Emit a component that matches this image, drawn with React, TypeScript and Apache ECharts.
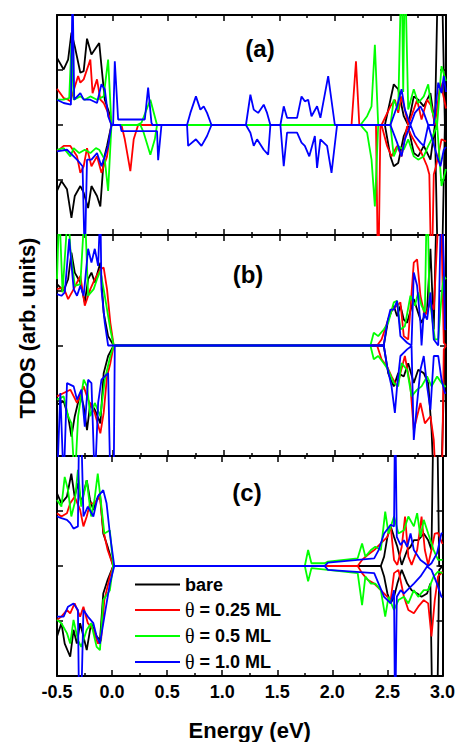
import React, { useEffect, useRef } from 'react';
import * as echarts from 'echarts';

// ---------- data: [energy (eV), TDOS (arb. units)] ----------
// Panel (a)
const aBareUp = [[-0.50,1.22],[-0.44,1.01],[-0.40,1.19],[-0.37,1.68],[-0.34,1.43],[-0.29,0.95],[-0.26,0.98],[-0.23,1.57],[-0.19,1.28],[-0.14,1.43],[-0.12,1.49],[-0.10,1.07],[-0.07,0.46],[-0.02,0.16],[-0.01,0],[2.45,0],[2.50,0.46],[2.53,0.74],[2.57,0.65],[2.62,0.16],[2.66,0],[2.71,0.52],[2.75,0.46],[2.80,0.34],[2.86,0.58],[2.90,0],[2.93,3],[2.96,3],[2.99,0],[3.0,0]];
const aBareDn = [[-0.50,-1.20],[-0.46,-1.02],[-0.41,-1.17],[-0.37,-1.69],[-0.34,-1.29],[-0.29,-1.11],[-0.26,-1.23],[-0.22,-1.51],[-0.19,-1.11],[-0.14,-1.29],[-0.11,-1.48],[-0.08,-0.63],[-0.05,-0.38],[-0.01,0],[2.45,0],[2.50,-0.57],[2.53,-0.75],[2.57,-0.69],[2.62,-0.20],[2.66,-0.02],[2.71,-0.51],[2.75,-0.57],[2.80,-0.38],[2.86,-0.63],[2.90,0],[2.93,-3],[2.96,-3],[2.99,0],[3.0,0]];
const a025Up = [[-0.50,0.66],[-0.44,0.49],[-0.40,0.46],[-0.38,0.43],[-0.31,0.89],[-0.29,0.77],[-0.26,0.83],[-0.20,1.19],[-0.18,0.58],[-0.14,0.83],[-0.11,0.46],[-0.08,0.40],[-0.04,0.22],[-0.01,0],[2.15,0],[2.19,1.16],[2.22,0],[2.42,0],[2.50,0.34],[2.54,0.46],[2.57,0.22],[2.60,0.52],[2.63,0.28],[2.66,0],[2.71,0.28],[2.74,0.46],[2.78,0.10],[2.83,0.46],[2.87,0.34],[2.90,0],[2.95,0.77],[2.98,0.5],[3.0,0.3]];
const a025Dn = [[-0.50,-0.48],[-0.44,-0.38],[-0.38,-0.38],[-0.32,-0.57],[-0.29,-0.87],[-0.26,-0.75],[-0.23,-0.42],[-0.19,-0.75],[-0.14,-0.57],[-0.10,-0.87],[-0.05,-0.57],[-0.01,0],[0.08,0],[0.11,-0.26],[0.16,-0.84],[0.19,-0.26],[0.23,0],[2.37,0],[2.39,-3],[2.41,0],[2.42,0],[2.47,-0.38],[2.51,-0.57],[2.56,-0.38],[2.60,-0.57],[2.65,-0.02],[2.69,-0.20],[2.74,-0.38],[2.78,-0.51],[2.83,-0.75],[2.85,-0.9],[2.87,-3],[2.89,-0.9],[2.91,-0.75],[2.96,-0.26],[3.0,-0.3]];
const a05Up = [[-0.50,0.46],[-0.44,0.46],[-0.39,0.49],[-0.37,1.49],[-0.35,0.46],[-0.29,0.52],[-0.25,0.46],[-0.20,0.52],[-0.14,0.46],[-0.08,0.52],[-0.04,1.19],[-0.01,0],[0.22,0],[0.26,0.04],[0.34,0.46],[0.40,0],[2.23,0],[2.29,0.16],[2.33,0.34],[2.36,1.46],[2.39,0],[2.50,0],[2.53,0.46],[2.57,0.28],[2.60,3],[2.615,0.6],[2.63,3],[2.66,0.28],[2.71,0.65],[2.75,0.40],[2.80,0.52],[2.84,0.74],[2.87,0.28],[2.92,0],[2.96,1.07],[3.0,0.8]];
const a05Dn = [[-0.50,-0.45],[-0.44,-0.42],[-0.38,-0.57],[-0.35,-0.42],[-0.30,-0.51],[-0.25,-0.45],[-0.20,-0.51],[-0.15,-0.42],[-0.12,-0.45],[-0.07,-0.63],[-0.04,-1.20],[-0.01,0],[0.25,0],[0.28,-0.14],[0.34,-0.54],[0.38,-0.26],[0.40,0],[2.23,0],[2.29,-0.14],[2.33,-0.63],[2.36,-1.48],[2.39,0],[2.50,0],[2.53,-0.57],[2.57,-0.38],[2.62,-0.45],[2.66,-0.26],[2.71,-0.57],[2.75,-0.63],[2.80,-0.57],[2.84,-0.38],[2.87,-0.26],[2.92,0],[2.96,-1.11],[3.0,-0.8]];
const a10Up = [[-0.50,0.46],[-0.44,0.40],[-0.375,0.37],[-0.36,2.5],[-0.345,0.46],[-0.29,0.58],[-0.26,0.46],[-0.20,0.46],[-0.14,0.40],[-0.10,0.74],[-0.07,0.65],[-0.04,0.16],[-0.01,0],[0.005,0],[0.02,1.16],[0.05,0.10],[0.29,0.10],[0.32,0.68],[0.35,0.04],[0.36,0],[0.67,0],[0.70,0.22],[0.75,0.52],[0.79,0.28],[0.82,0.34],[0.85,0.22],[0.89,0],[1.20,0],[1.24,0.55],[1.27,0.28],[1.31,0.22],[1.36,0.37],[1.39,0.22],[1.42,0],[1.51,0],[1.54,0.34],[1.57,0.13],[1.66,0.13],[1.70,0.52],[1.73,0.43],[1.76,0.46],[1.79,0.16],[1.84,0.34],[1.87,0.13],[1.94,0.89],[2.00,0],[2.50,0],[2.56,0.34],[2.60,0.65],[2.63,0.28],[2.68,0],[2.72,0.22],[2.77,0.34],[2.80,0.22],[2.84,0],[2.89,0],[2.93,0.77],[2.96,0.58],[2.98,0.89],[3.0,0.6]];
const a10Dn = [[-0.50,-0.48],[-0.41,-0.45],[-0.32,-0.63],[-0.27,-0.75],[-0.25,-2.5],[-0.23,-0.63],[-0.19,-0.63],[-0.14,-0.51],[-0.10,-0.75],[-0.07,-0.57],[-0.04,-0.38],[-0.01,0],[0.07,0],[0.08,-0.11],[0.40,-0.11],[0.41,-0.64],[0.44,0],[0.67,0],[0.68,-0.38],[0.75,-0.26],[0.80,-0.38],[0.85,-0.20],[0.89,0],[1.20,0],[1.24,-0.14],[1.27,-0.38],[1.30,-0.26],[1.36,-0.45],[1.40,-0.54],[1.42,0],[1.51,0],[1.54,-0.75],[1.57,-0.14],[1.66,-0.14],[1.70,-0.32],[1.73,-0.38],[1.77,-0.57],[1.82,-0.20],[1.84,-0.78],[1.87,-0.26],[1.93,-0.38],[1.97,-0.87],[2.02,0],[2.50,0],[2.56,-0.32],[2.60,-0.57],[2.63,-0.26],[2.68,0],[2.72,-0.20],[2.77,-0.32],[2.80,-0.38],[2.84,0],[2.92,-0.57],[2.95,-0.75],[2.98,-0.45],[3.0,-0.4]];

// Panel (b)
const bBareUp = [[-0.50,1.11],[-0.44,0.99],[-0.40,1.20],[-0.37,1.68],[-0.34,1.32],[-0.29,1.14],[-0.25,0.78],[-0.22,1.20],[-0.19,1.32],[-0.16,1.14],[-0.11,1.50],[-0.08,0.59],[-0.04,0.17],[0.01,0],[2.44,0],[2.48,0.47],[2.53,0.72],[2.56,0.53],[2.59,0.72],[2.62,0.47],[2.65,0.41],[2.71,0.84],[2.75,0.59],[2.78,0.41],[2.83,0.65],[2.86,1.75],[2.89,0.29],[2.92,3],[2.96,3],[2.99,0.05],[3.0,0]];
const bBareDn = [[-0.50,-1.07],[-0.44,-1.01],[-0.40,-1.28],[-0.37,-1.65],[-0.34,-1.28],[-0.29,-0.86],[-0.26,-1.10],[-0.23,-1.53],[-0.20,-1.04],[-0.16,-1.16],[-0.11,-1.41],[-0.08,-0.50],[-0.04,-0.19],[0.01,0],[2.44,0],[2.48,-0.50],[2.53,-0.74],[2.57,-0.50],[2.62,-0.56],[2.66,-0.32],[2.71,-0.68],[2.75,-0.44],[2.80,-0.50],[2.84,-0.68],[2.87,-1.53],[2.90,-3],[2.95,-3],[2.99,-0.07],[3.0,0]];
const b025Up = [[-0.50,1.02],[-0.44,1.05],[-0.40,0.84],[-0.35,1.02],[-0.29,1.26],[-0.25,0.72],[-0.20,1.02],[-0.16,1.20],[-0.11,1.38],[-0.08,1.41],[-0.05,1.02],[-0.02,0.41],[0.01,0],[2.38,0],[2.42,0.11],[2.47,0.41],[2.51,0.65],[2.56,0.72],[2.59,0.78],[2.62,0.17],[2.66,0.11],[2.71,1.50],[2.74,1.56],[2.77,0.90],[2.81,0.53],[2.86,0.78],[2.89,0.65],[2.92,1.87],[2.95,3],[2.98,0.05],[3.0,0]];
const b025Dn = [[-0.50,-0.92],[-0.44,-0.86],[-0.38,-0.80],[-0.32,-1.04],[-0.26,-0.74],[-0.22,-0.98],[-0.16,-1.22],[-0.11,-1.59],[-0.08,-1.22],[-0.05,-0.56],[-0.02,-0.32],[0.01,0],[2.38,0],[2.42,-0.25],[2.47,-0.38],[2.51,-0.56],[2.56,-0.74],[2.59,-0.50],[2.63,-0.19],[2.68,-0.74],[2.71,-1.53],[2.74,-1.28],[2.77,-1.04],[2.81,-1.41],[2.86,-1.28],[2.89,-1.71],[2.92,-3],[2.96,-3],[2.98,-0.07],[3.0,0]];
const b05Up = [[-0.50,1.20],[-0.48,2.5],[-0.45,0.96],[-0.40,2.5],[-0.38,1.75],[-0.34,1.08],[-0.29,1.11],[-0.25,2.5],[-0.22,0.90],[-0.17,1.02],[-0.14,1.20],[-0.11,1.35],[-0.07,0.90],[-0.02,0.29],[0.01,0],[2.32,0],[2.35,0.23],[2.39,0.17],[2.44,0.29],[2.48,0.41],[2.53,0.78],[2.56,0.81],[2.59,0.29],[2.63,0.35],[2.68,0.90],[2.72,0.72],[2.75,0.96],[2.78,0.72],[2.81,0.6],[2.83,3],[2.85,0.9],[2.90,0.11],[2.93,0.11],[2.96,0.90],[2.98,1.26],[3.0,1.2]];
const b05Dn = [[-0.50,-0.98],[-0.44,-0.92],[-0.40,-1.28],[-0.37,-1.41],[-0.34,-2.5],[-0.31,-1.28],[-0.26,-0.62],[-0.23,-0.74],[-0.20,-1.28],[-0.16,-1.04],[-0.11,-1.28],[-0.07,-0.62],[-0.02,-0.19],[0.01,0],[2.32,0],[2.35,-0.25],[2.39,-0.19],[2.44,-0.32],[2.48,-0.44],[2.53,-0.68],[2.57,-0.74],[2.60,-0.32],[2.65,-0.44],[2.69,-0.92],[2.74,-0.80],[2.78,-0.74],[2.83,-0.56],[2.87,-0.74],[2.92,-0.56],[2.96,-0.68],[2.99,-0.74],[3.0,-0.74]];
const b10Up = [[-0.50,0.93],[-0.46,0.90],[-0.43,0.96],[-0.39,1.93],[-0.35,1.02],[-0.32,0.90],[-0.29,1.08],[-0.26,0.90],[-0.22,1.75],[-0.19,1.50],[-0.16,1.75],[-0.13,1.44],[-0.11,2.5],[-0.10,1.02],[-0.07,0.41],[-0.04,0],[2.44,0],[2.47,0.41],[2.50,0.65],[2.53,0.65],[2.56,0.81],[2.59,0.17],[2.65,0.05],[2.69,0],[2.71,1.32],[2.74,1.08],[2.77,0.41],[2.78,0],[2.80,0.59],[2.83,0.47],[2.86,0.96],[2.89,0.11],[2.93,0],[2.96,3],[2.98,1.50],[2.99,0.29],[3.0,0.3]];
const b10Dn = [[-0.50,-2.5],[-0.47,-0.86],[-0.44,-2.5],[-0.41,-0.68],[-0.35,-0.74],[-0.32,-0.98],[-0.28,-0.80],[-0.25,-1.47],[-0.22,-0.62],[-0.19,-0.68],[-0.16,-2.5],[-0.13,-1.04],[-0.10,-0.62],[-0.07,-0.56],[-0.04,-0.50],[-0.02,-2.5],[0.01,-2.5],[0.02,0],[2.44,0],[2.47,-0.38],[2.51,-0.74],[2.54,-1.22],[2.56,-0.74],[2.59,-0.19],[2.65,-0.07],[2.69,-0.01],[2.71,-1.71],[2.74,-1.04],[2.77,-0.44],[2.80,-0.19],[2.83,-0.74],[2.86,-1.16],[2.89,-0.19],[2.93,-0.19],[2.96,-0.62],[2.99,-0.86],[3.0,-0.86]];

// Panel (c)
const cBareUp = [[-0.50,1.32],[-0.46,1.14],[-0.41,1.26],[-0.37,1.68],[-0.34,1.26],[-0.31,1.50],[-0.28,1.14],[-0.23,1.56],[-0.20,1.20],[-0.17,1.02],[-0.14,1.20],[-0.11,1.32],[-0.08,0.59],[-0.04,0.35],[0.01,0],[2.44,0],[2.47,0.17],[2.50,0.53],[2.53,0.72],[2.56,0.53],[2.59,0.35],[2.63,0.02],[2.68,0.29],[2.71,0.35],[2.74,0.47],[2.78,0.47],[2.83,0.59],[2.87,0.47],[2.90,0.29],[2.92,3],[2.95,3],[2.97,0],[3.0,0]];
const cBareDn = [[-0.50,-1.28],[-0.46,-1.04],[-0.43,-1.41],[-0.38,-1.65],[-0.35,-1.16],[-0.32,-1.41],[-0.29,-1.04],[-0.26,-1.28],[-0.23,-1.53],[-0.19,-1.04],[-0.14,-1.28],[-0.11,-1.35],[-0.08,-0.50],[-0.04,-0.25],[0.01,0],[2.44,0],[2.47,-0.19],[2.50,-0.50],[2.53,-0.68],[2.56,-0.56],[2.59,-0.32],[2.63,-0.07],[2.68,-0.32],[2.72,-0.44],[2.77,-0.50],[2.81,-0.56],[2.86,-0.50],[2.89,-0.32],[2.91,-3],[2.95,-3],[2.97,-0.07],[3.0,0]];
const c025Up = [[-0.50,0.96],[-0.46,0.90],[-0.41,0.96],[-0.38,1.14],[-0.34,1.26],[-0.29,1.02],[-0.26,0.72],[-0.23,0.90],[-0.20,1.14],[-0.16,1.14],[-0.11,1.26],[-0.08,0.65],[-0.04,0.29],[0.01,0],[2.23,0],[2.27,0.11],[2.32,0.20],[2.38,0.29],[2.44,0.41],[2.50,0.53],[2.53,0.72],[2.56,0.11],[2.59,0.02],[2.63,0.35],[2.66,0.90],[2.69,0.17],[2.72,0.02],[2.77,0.29],[2.81,0.90],[2.84,0.29],[2.87,0.02],[2.90,0.29],[2.93,0.59],[2.96,0.60],[3.0,0.4]];
const c025Dn = [[-0.50,-0.98],[-0.46,-0.92],[-0.41,-0.80],[-0.38,-0.86],[-0.34,-0.68],[-0.29,-0.92],[-0.26,-0.74],[-0.22,-1.04],[-0.17,-1.16],[-0.13,-1.41],[-0.10,-1.35],[-0.07,-0.62],[-0.02,-0.19],[0.01,0],[2.23,0],[2.27,-0.13],[2.32,-0.25],[2.38,-0.32],[2.44,-0.44],[2.50,-0.56],[2.53,-0.62],[2.56,-0.13],[2.60,-0.07],[2.65,-0.56],[2.69,-0.80],[2.74,-0.86],[2.78,-0.74],[2.83,-0.62],[2.87,-0.68],[2.90,-1.28],[2.93,-0.62],[2.96,-0.19],[2.99,-0.13],[3.0,-0.1]];
const c05Up = [[-0.50,1.20],[-0.46,1.08],[-0.43,1.62],[-0.40,1.38],[-0.37,0.90],[-0.34,1.14],[-0.31,1.75],[-0.28,1.08],[-0.23,1.56],[-0.19,0.90],[-0.16,1.20],[-0.13,1.68],[-0.10,1.14],[-0.07,0.59],[-0.02,0.65],[0.01,0],[1.75,0],[1.78,0.29],[1.81,0.05],[1.93,0.05],[1.96,0.08],[2.23,0.14],[2.27,0.41],[2.30,0.17],[2.35,0.29],[2.39,0.35],[2.44,0.29],[2.48,0.99],[2.51,0.59],[2.56,0.90],[2.60,0.59],[2.65,0.65],[2.69,0.90],[2.74,0.72],[2.77,0.96],[2.80,0.53],[2.83,0.84],[2.87,0.59],[2.92,0.29],[2.96,0.11],[3.0,0.11]];
const c05Dn = [[-0.50,-0.98],[-0.46,-1.04],[-0.41,-1.22],[-0.38,-1.41],[-0.35,-0.98],[-0.31,-1.35],[-0.28,-1.47],[-0.23,-1.16],[-0.19,-1.04],[-0.14,-1.47],[-0.11,-1.53],[-0.08,-0.62],[-0.02,-0.44],[0.01,0],[1.75,0],[1.78,-0.28],[1.81,-0.04],[1.96,-0.07],[2.23,-0.13],[2.27,-0.71],[2.30,-0.19],[2.35,-0.32],[2.39,-0.32],[2.44,-0.44],[2.48,-0.92],[2.51,-0.56],[2.56,-0.80],[2.60,-0.62],[2.65,-0.56],[2.69,-0.68],[2.74,-0.44],[2.78,-0.56],[2.83,-0.44],[2.87,-0.44],[2.92,-0.19],[2.96,-0.10],[3.0,-0.13]];
const c10Up = [[-0.50,0.90],[-0.46,0.87],[-0.41,0.84],[-0.38,0.78],[-0.35,0.68],[-0.31,0.72],[-0.30,2.5],[-0.28,2.5],[-0.26,0.90],[-0.22,1.08],[-0.17,0.90],[-0.13,1.26],[-0.08,1.38],[-0.05,1.14],[-0.02,0.59],[0.02,0],[1.93,0],[1.96,0.06],[2.38,0.14],[2.42,0.29],[2.47,0.59],[2.53,0.75],[2.56,0.72],[2.57,3],[2.585,0.53],[2.62,0.38],[2.65,0.47],[2.68,0.35],[2.71,0.59],[2.74,0.29],[2.80,0.11],[2.84,0.05],[2.87,0],[2.90,0.05],[2.95,0.23],[2.99,0.59],[3.0,0.6]];
const c10Dn = [[-0.50,-0.92],[-0.44,-0.92],[-0.40,-0.74],[-0.35,-0.68],[-0.31,-0.80],[-0.30,-2.5],[-0.28,-2.5],[-0.26,-0.80],[-0.22,-0.92],[-0.17,-1.04],[-0.14,-1.28],[-0.11,-1.41],[-0.07,-0.92],[-0.02,-0.32],[0.02,0],[1.93,0],[1.96,-0.07],[2.38,-0.13],[2.42,-0.32],[2.47,-0.56],[2.53,-0.68],[2.56,-0.44],[2.57,-3],[2.585,-0.56],[2.62,-0.44],[2.65,-0.50],[2.68,-0.44],[2.71,-0.38],[2.74,-0.32],[2.80,-0.19],[2.86,-0.01],[2.90,-0.07],[2.95,-0.32],[2.99,-0.56],[3.0,-0.56]];

const seriesNames = ['bare', 'θ = 0.25 ML', 'θ = 0.5 ML', 'θ = 1.0 ML'];
const seriesColors = ['#000000', '#ff0000', '#00ff00', '#0000ff'];
const panelLabels = ['(a)', '(b)', '(c)'];
const xTickValues = [-0.5, 0.0, 0.5, 1.0, 1.5, 2.0, 2.5, 3.0];

const panels = [
  [[aBareUp, aBareDn], [a025Up, a025Dn], [a05Up, a05Dn], [a10Up, a10Dn]],
  [[bBareUp, bBareDn], [b025Up, b025Dn], [b05Up, b05Dn], [b10Up, b10Dn]],
  [[cBareUp, cBareDn], [c025Up, c025Dn], [c05Up, c05Dn], [c10Up, c10Dn]],
];

const FONT = 'Arial, "Liberation Sans", Helvetica, sans-serif';
const SERIF = '"Times New Roman", "Liberation Serif", "DejaVu Serif", serif';

const gridBoxes = [
  { top: 15, height: 220 },
  { top: 235, height: 221 },
  { top: 456, height: 220 },
];
const labelPos = [
  [260, 48],
  [248, 274],
  [247, 492],
];

function buildOption() {
  const grid = gridBoxes.map((g) => ({ left: 57, width: 389, top: g.top, height: g.height, show: false }));
  const xAxis: any[] = [];
  const yAxis: any[] = [];
  gridBoxes.forEach((_, i) => {
    ['bottom', 'top'].forEach((pos) => {
      const isMain = pos === 'bottom' && i === 2;
      xAxis.push({
        type: 'value',
        gridIndex: i,
        position: pos,
        min: xTickValues[0],
        max: xTickValues[xTickValues.length - 1],
        interval: 0.5,
        axisLine: { show: true, onZero: false, lineStyle: { color: '#000', width: 2 } },
        axisTick: { show: true, inside: true, length: 6, lineStyle: { color: '#000', width: 1.5 } },
        minorTick: { show: true, splitNumber: 2, length: 3, lineStyle: { color: '#000', width: 1.5 } },
        splitLine: { show: false },
        minorSplitLine: { show: false },
        axisLabel: isMain
          ? {
              show: true,
              showMinLabel: true,
              showMaxLabel: true,
              formatter: (v: number) => v.toFixed(1),
              fontSize: 18,
              fontWeight: 'bold',
              fontFamily: FONT,
              color: '#000',
              margin: 7,
            }
          : { show: false },
        name: isMain ? 'Energy (eV)' : '',
        nameLocation: 'middle',
        nameGap: 43,
        nameTextStyle: { fontSize: 22, fontWeight: 'bold', fontFamily: FONT, color: '#000' },
      });
    });
    ['left', 'right'].forEach((pos) => {
      yAxis.push({
        type: 'value',
        gridIndex: i,
        position: pos,
        min: -2,
        max: 2,
        interval: 1,
        axisLine: { show: true, onZero: false, lineStyle: { color: '#000', width: 2 } },
        axisTick: { show: true, inside: true, length: 6, lineStyle: { color: '#000', width: 1.5 } },
        axisLabel: { show: false },
        splitLine: { show: false },
      });
    });
  });

  const series: any[] = [];
  panels.forEach((levels, i) => {
    levels.forEach((pair, k) => {
      pair.forEach((data) => {
        series.push({
          type: 'line',
          name: seriesNames[k],
          xAxisIndex: 2 * i,
          yAxisIndex: 2 * i,
          data,
          showSymbol: false,
          symbol: 'none',
          clip: true,
          silent: true,
          lineStyle: { color: seriesColors[k], width: 1.8 },
          itemStyle: { color: seriesColors[k] },
        });
      });
    });
  });

  const graphic: any[] = panelLabels.map((t, i) => ({
    type: 'text',
    x: labelPos[i][0],
    y: labelPos[i][1],
    z: 100,
    style: {
      text: t,
      font: `bold 24px ${FONT}`,
      fill: '#000',
      align: 'center',
      verticalAlign: 'middle',
      textAlign: 'center',
      textVerticalAlign: 'middle',
    },
  }));
  graphic.push({
    type: 'text',
    x: 27,
    y: 328,
    rotation: Math.PI / 2,
    z: 100,
    style: {
      text: 'TDOS (arb. units)',
      font: `bold 22px ${FONT}`,
      fill: '#000',
      align: 'center',
      verticalAlign: 'middle',
      textAlign: 'center',
      textVerticalAlign: 'middle',
    },
  });

  return {
    animation: false,
    backgroundColor: '#ffffff',
    grid,
    xAxis,
    yAxis,
    series,
    graphic,
    legend: {
      data: seriesNames,
      orient: 'vertical',
      left: 130,
      top: 570,
      icon: 'rect',
      itemWidth: 45,
      itemHeight: 2,
      itemGap: 6,
      selectedMode: false,
      formatter: (name: string) =>
        name.startsWith('θ') ? `{t|θ}{b|${name.slice(1)}}` : `{b|${name}}`,
      textStyle: {
        color: '#000',
        fontSize: 18,
        lineHeight: 19,
        rich: {
          t: { fontFamily: SERIF, fontSize: 20, fontWeight: 'normal', color: '#000', lineHeight: 19 },
          b: { fontFamily: FONT, fontSize: 18, fontWeight: 'bold', color: '#000', lineHeight: 19 },
        },
      },
    },
  };
}

export default function App() {
  const ref = useRef<HTMLDivElement>(null);
  useEffect(() => {
    if (!ref.current) return;
    const chart = echarts.init(ref.current, null, { renderer: 'svg' });
    chart.setOption(buildOption() as any);
    return () => chart.dispose();
  }, []);
  return (
    <div
      ref={ref}
      style={{ position: 'fixed', left: 0, top: 0, width: 458, height: 742, background: '#fff' }}
    />
  );
}
